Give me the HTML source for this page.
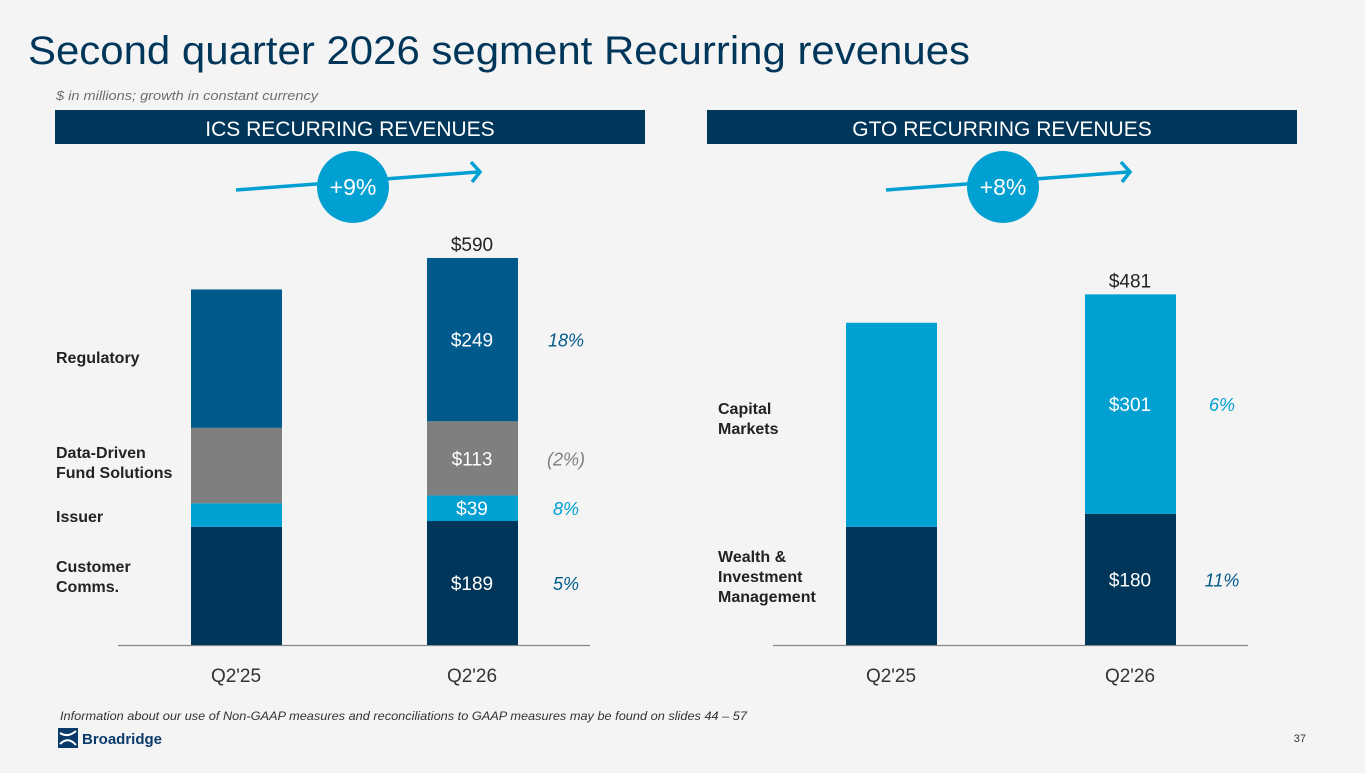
<!DOCTYPE html>
<html><head><meta charset="utf-8"><style>
html,body{margin:0;padding:0;background:#f4f4f4;}
body{width:1365px;height:768px;overflow:hidden;font-family:"Liberation Sans",sans-serif;}
svg text{font-family:"Liberation Sans",sans-serif;}
</style></head><body>
<svg id="s" width="1365" height="768" xmlns="http://www.w3.org/2000/svg">
<rect width="1365" height="768" fill="#f4f4f4"/>
<text x="28" y="64" font-size="40" fill="#00365a" textLength="942" lengthAdjust="spacingAndGlyphs">Second quarter 2026 segment Recurring revenues</text>
<text x="56" y="100" font-size="12.5" font-style="italic" fill="#6e6e6e" textLength="262" lengthAdjust="spacingAndGlyphs">$ in millions; growth in constant currency</text>
<rect x="55" y="110" width="590" height="34" fill="#00365a"/>
<text x="350" y="136" font-size="21" fill="#fff" text-anchor="middle">ICS RECURRING REVENUES</text>
<rect x="707" y="110" width="590" height="34" fill="#00365a"/>
<text x="1002" y="136" font-size="21" fill="#fff" text-anchor="middle">GTO RECURRING REVENUES</text>
<g id="ics"></g>
<g id="gto"></g>
<text x="60" y="720" font-size="12" font-style="italic" fill="#333" textLength="687" lengthAdjust="spacingAndGlyphs">Information about our use of Non-GAAP measures and reconciliations to GAAP measures may be found on slides 44 – 57</text>
<g>
<rect x="58" y="728" width="20" height="20" fill="#0a3a6a"/>
<path d="M60 733 Q68 738 76 731 M60 744 Q68 736 76 745" stroke="#fff" stroke-width="2" fill="none"/>
<text x="82" y="744" font-size="15" font-weight="bold" fill="#0a3a6a">Broadridge</text>
</g>
<text x="1306" y="742" font-size="11" fill="#333" text-anchor="end">37</text>
</svg>
<script>
const icsCategories=["Q2'25","Q2'26"];
const icsSegments=["Customer Comms.","Issuer","Data-Driven Fund Solutions","Regulatory"];
const icsQ225=[180,36,115,211];
const icsQ226=[189,39,113,249];
const icsTotal=590;
const icsGrowth=["5%","8%","(2%)","18%"];
const icsColors=["#00365a","#00a0d2","#7f7f7f","#005a8c"];
const gtoCategories=["Q2'25","Q2'26"];
const gtoSegments=["Wealth & Investment Management","Capital Markets"];
const gtoQ225=[162,280];
const gtoQ226=[180,301];
const gtoTotal=481;
const gtoGrowth=["11%","6%"];
const gtoColors=["#00365a","#00a0d2"];
const NS="http://www.w3.org/2000/svg";
function mk(p,t,a,txt){const e=document.createElementNS(NS,t);for(const k in a)e.setAttribute(k,a[k]);if(txt!==undefined)e.textContent=txt;p.appendChild(e);return e;}
function chart(g,cfg){
  const base=645,y=v=>v*cfg.scale;
  const x=i=>cfg.barX[i];
  mk(g,'line',{x1:cfg.axis[0],x2:cfg.axis[1],y1:base+0.5,y2:base+0.5,stroke:'#888','stroke-width':1.2});
  [cfg.q1,cfg.q2].forEach((vals,i)=>{
    let cum=0;
    vals.forEach((v,j)=>{
      const r=mk(g,'rect',{x:x(i),y:base-y(cum+v),width:91,height:y(v),fill:cfg.colors[j]});
      
      
      if(i===1){
        const t=mk(g,'text',{x:x(i)+45,y:base-y(cum+v/2)+7,'font-size':19,fill:'#fff','text-anchor':'middle'},'$'+v);
        
        
        const gt=mk(g,'text',{x:cfg.growthX,y:base-y(cum+v/2)+7,'font-size':18,'font-style':'italic',fill:cfg.growthColors[j],'text-anchor':'middle'},cfg.growth[j]);
        
        
      }
      cum+=v;
    });
    const c=mk(g,'text',{x:x(i)+45,y:682,'font-size':19,fill:'#333','text-anchor':'middle'},cfg.cats[i]);
    
    
  });
  const tt=mk(g,'text',{x:x(1)+45,y:base-y(cfg.total)-7,'font-size':19,fill:'#222','text-anchor':'middle'},'$'+cfg.total);
  
  
  cfg.labels.forEach(l=>{
    const t=mk(g,'text',{x:l[0],y:l[1],'font-size':16,'font-weight':'bold',fill:'#222'});
    
    
    l[2].forEach((s,k)=>mk(t,'tspan',{x:l[0],dy:k?20:0},s));
  });
  const a=cfg.arrow;
  mk(g,'line',{x1:a[0],y1:190,x2:a[0]+242,y2:172,stroke:'#00a0d2','stroke-width':3.5});
  mk(g,'polyline',{points:(a[0]+235)+',162 '+(a[0]+244)+',172 '+(a[0]+236)+',182',stroke:'#00a0d2','stroke-width':3.5,fill:'none'});
  const c=mk(g,'circle',{cx:a[0]+117,cy:187,r:36,fill:'#00a0d2'});
  
  
  mk(g,'text',{x:a[0]+117,y:195,'font-size':23,fill:'#fff','text-anchor':'middle'},cfg.badge);
}
chart(document.getElementById('ics'),{id:'ics',scale:0.656,barX:[191,427],axis:[118,590],q1:icsQ225,q2:icsQ226,colors:icsColors,
 total:icsTotal,growth:icsGrowth,growthX:566,growthColors:["#005a8c","#00a0d2","#7f7f7f","#005a8c"],cats:icsCategories,
 labels:[[56,572,["Customer","Comms."]],[56,522,["Issuer"]],[56,458,["Data-Driven","Fund Solutions"]],[56,363,["Regulatory"]]],arrow:[236],badge:'+9%'});
chart(document.getElementById('gto'),{id:'gto',scale:0.729,barX:[846,1085],axis:[773,1248],q1:gtoQ225,q2:gtoQ226,colors:gtoColors,
 total:gtoTotal,growth:gtoGrowth,growthX:1222,growthColors:["#005a8c","#00a0d2"],cats:gtoCategories,
 labels:[[718,562,["Wealth &","Investment","Management"]],[718,414,["Capital","Markets"]]],arrow:[886],badge:'+8%'});
</script>
</body></html>
